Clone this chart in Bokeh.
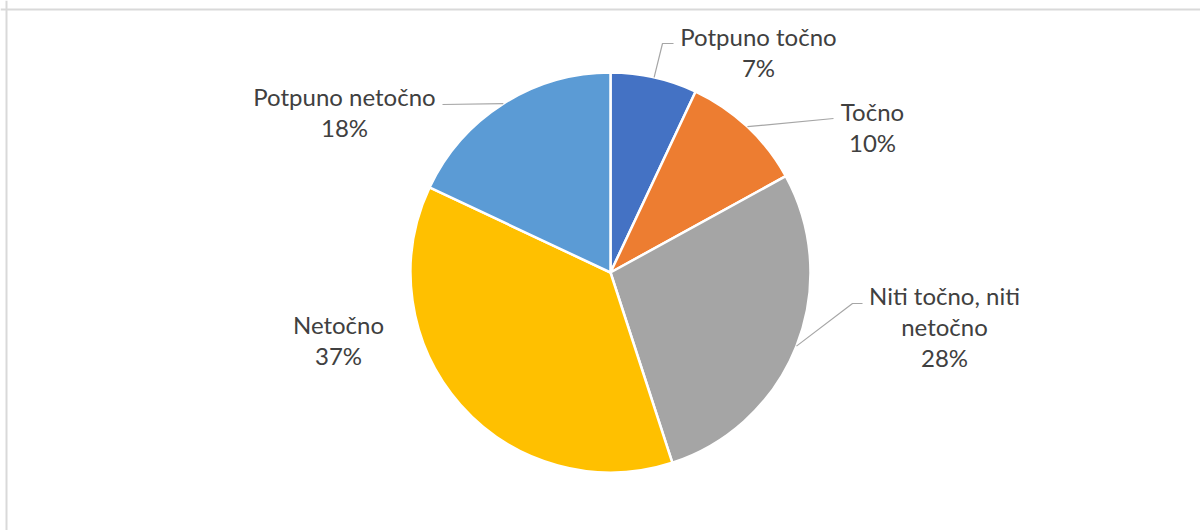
import math
from bokeh.plotting import figure
from bokeh.models import Range1d, Span
from bokeh.core.properties import value
from bokeh.embed import file_html
from bokeh.resources import INLINE

# ---- data ----
categories = ["Potpuno točno", "Točno", "Niti točno, niti netočno", "Netočno", "Potpuno netočno"]
values = [7, 10, 28, 37, 18]
colors = ["#4472C4", "#ED7D31", "#A5A5A5", "#FFC000", "#5B9BD5"]
label_lines = [["Potpuno točno"], ["Točno"], ["Niti točno, niti", "netočno"], ["Netočno"], ["Potpuno netočno"]]

# ---- layout (image pixel coords, converted below) ----
CX, CY, R = 610, 272, 200
W, H = 1200, 530
X0, Y0 = 0, 0  # page offset of the figure
FONT = "Lato"
LINE_H = 31
# first-line baseline centre of each label
label_pos = [(758, 36), (872, 111), (944, 295), (338, 324), (344, 96)]
# leader line points after the pie-edge point (None = no leader)
leader_pts = [[(662, 43), (673, 43)],
              [(833, 118)],
              [(852, 303), (862, 303)],
              None,
              [(442, 104)]]


def dx(x):
    return x - CX


def dy(y):
    return CY - y


p = figure(width=W, height=H, output_backend="svg", toolbar_location=None,
           x_range=Range1d(X0 - CX, X0 + W - CX), y_range=Range1d(CY - Y0 - H, CY - Y0),
           min_border=0, outline_line_color=None, match_aspect=False)
p.axis.visible = False
p.grid.visible = False
p.background_fill_color = "white"
p.border_fill_color = "white"

# chart border (top and left visible)
p.add_layout(Span(location=dy(9), dimension="width", line_color="#d9d9d9", line_width=2))
p.add_layout(Span(location=dx(6), dimension="height", line_color="#d9d9d9", line_width=2))

total = sum(values)
starts, ends, mids = [], [], []
cum = 0.0
for v in values:
    a0 = math.pi / 2 - 2 * math.pi * cum / total
    cum += v
    a1 = math.pi / 2 - 2 * math.pi * cum / total
    starts.append(a0)
    ends.append(a1)
    mids.append((a0 + a1) / 2)

p.wedge(x=[0] * len(values), y=[0] * len(values), radius=R,
        start_angle=starts, end_angle=ends, direction="clock",
        fill_color=colors, line_color="white", line_width=2.5)

# leader lines
for i, pts in enumerate(leader_pts):
    if pts is None:
        continue
    xs = [R * math.cos(mids[i])] + [dx(x) for x, _ in pts]
    ys = [R * math.sin(mids[i])] + [dy(y) for _, y in pts]
    p.line(xs, ys, line_color="#a6a6a6", line_width=1.2)

# labels
tx, ty, tt = [], [], []
for i, (lines, (lx, ly)) in enumerate(zip(label_lines, label_pos)):
    all_lines = lines + [f"{values[i]}%"]
    for k, s in enumerate(all_lines):
        tx.append(dx(lx))
        ty.append(dy(ly + k * LINE_H))
        tt.append(s)
p.text(x=tx, y=ty, text=tt, text_font=value(FONT), text_font_size="24px",
       text_color="#404040", text_align="center", text_baseline="alphabetic")

open("out.html", "w").write(file_html(p, INLINE))
